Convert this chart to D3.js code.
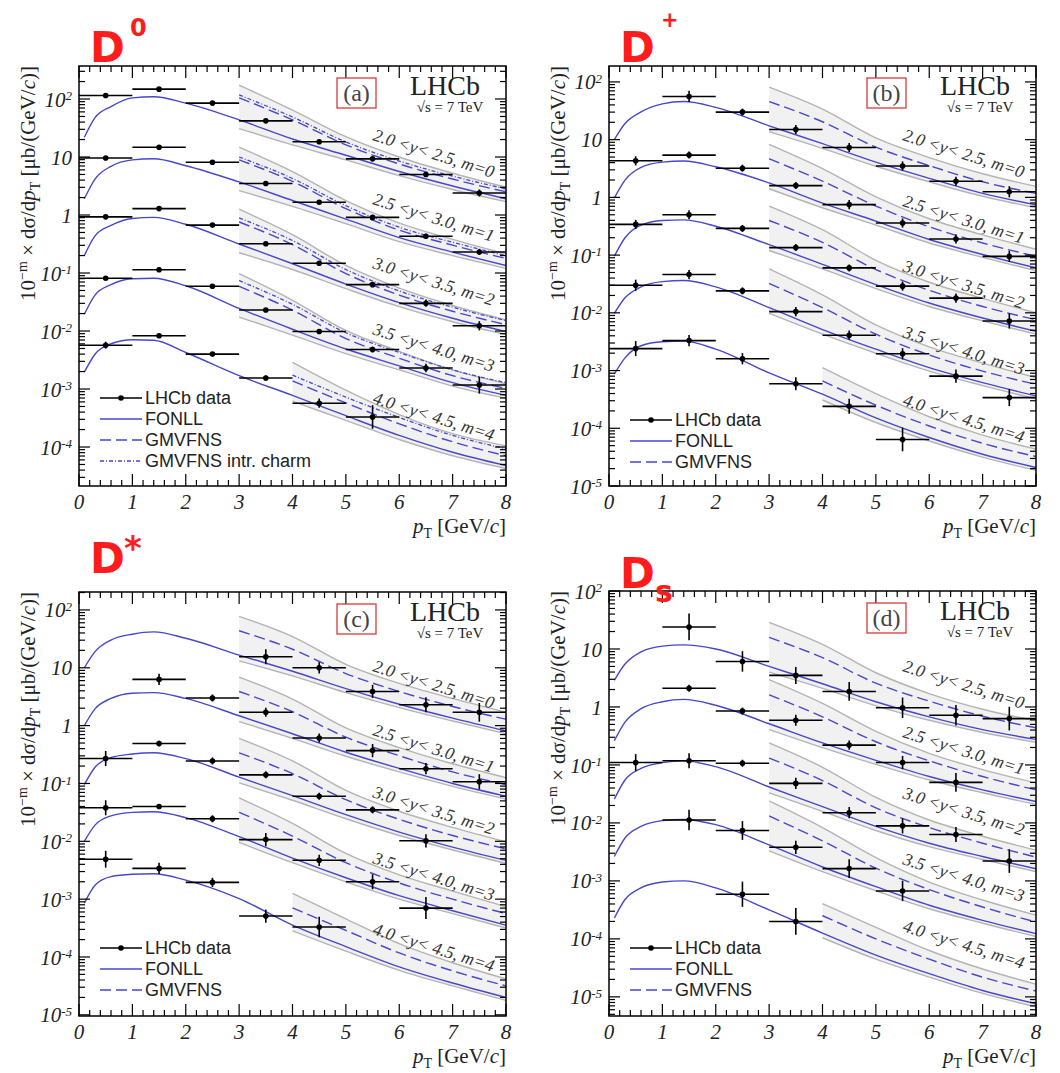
<!DOCTYPE html>
<html>
<head>
<meta charset="utf-8">
<script src="https://cdn.jsdelivr.net/npm/d3@7"></script>
<style>
body { margin: 0; background: #fff; }
svg { display: block; }
</style>
</head>
<body>
<svg id="chart" width="1060" height="1073"></svg>
<script>
"use strict";

// ---- shared axes / categories ----
const dataX = [0.5, 1.5, 2.5, 3.5, 4.5, 5.5, 6.5, 7.5];     // bin centres, bins are 1 GeV wide
const fonllX = [0.1, 0.3, 0.6, 1, 1.4, 2, 3, 4, 5, 6, 7, 8]; // points
const gmvX = [3, 4, 5, 6, 7, 8];                            // GMVFNS for m=0..3
const gmvX4 = [4, 5, 6, 7, 8];                              // GMVFNS for m=4
const xTickLabels = ['0', '1', '2', '3', '4', '5', '6', '7', '8'];
const rapidityLabels = ['2.0 <y< 2.5, m=0', '2.5 <y< 3.0, m=1', '3.0 <y< 3.5, m=2', '3.5 <y< 4.0, m=3', '4.0 <y< 4.5, m=4'];
const legendFull = ['LHCb data', 'FONLL', 'GMVFNS', 'GMVFNS intr. charm'];
const legendShort = ['LHCb data', 'FONLL', 'GMVFNS'];

// ---- (a) D0 ----  values in µb/(GeV/c) (already scaled by 10^-m), null = no point
const valA = [
	[115, 148, 85, 42, 18.3, 9.3, 5.0, 2.4],
	[9.6, 14.7, 8.1, 3.5, 1.66, 0.91, 0.43, 0.23],
	[0.93, 1.29, 0.67, 0.32, 0.147, 0.063, 0.030, 0.0123],
	[0.081, 0.114, 0.059, 0.023, 0.0098, 0.0048, 0.0023, 0.00117],
	[0.0057, 0.0083, 0.0040, 0.00155, 0.00057, 0.00033, null, null]
];
// relative errors
const errA = [
	[0.05, 0.05, 0.05, 0.06, 0.06, 0.08, 0.1, 0.15],
	[0.05, 0.05, 0.05, 0.06, 0.06, 0.08, 0.1, 0.12],
	[0.05, 0.05, 0.05, 0.06, 0.08, 0.1, 0.15, 0.2],
	[0.06, 0.05, 0.06, 0.08, 0.1, 0.12, 0.18, 0.4],
	[0.15, 0.06, 0.08, 0.1, 0.2, 0.6, null, null]
];
// theory curves, log10 of the value
const lgFonllA = [
	[1.34, 1.68, 1.87, 2.02, 2.04, 1.93, 1.64, 1.31, 1.03, 0.75, 0.50, 0.28],
	[0.28, 0.62, 0.84, 0.95, 0.97, 0.85, 0.57, 0.25, -0.07, -0.39, -0.64, -0.87],
	[-0.70, -0.36, -0.18, -0.06, -0.04, -0.16, -0.50, -0.84, -1.19, -1.51, -1.78, -2.01],
	[-1.71, -1.38, -1.20, -1.10, -1.09, -1.22, -1.61, -1.97, -2.31, -2.60, -2.89, -3.11],
	[-2.71, -2.40, -2.22, -2.15, -2.16, -2.37, -2.77, -3.11, -3.46, -3.80, -4.09, -4.32]
];
const lgGmvHiA = [
	[2.24, 1.81, 1.35, 1.00, 0.72, 0.48],
	[1.17, 0.75, 0.25, -0.14, -0.42, -0.67],
	[0.10, -0.34, -0.87, -1.26, -1.56, -1.81],
	[-1.01, -1.47, -1.99, -2.35, -2.67, -2.91],
	[-2.54, -3.02, -3.44, -3.77, -3.98]
];
const lgGmvA = [
	[2.02, 1.64, 1.21, 0.88, 0.62, 0.40],
	[0.95, 0.58, 0.11, -0.26, -0.52, -0.75],
	[-0.12, -0.51, -1.01, -1.38, -1.66, -1.89],
	[-1.23, -1.64, -2.13, -2.47, -2.77, -2.99],
	[-2.86, -3.24, -3.60, -3.91, -4.15]
];
const lgGmvIcA = [
	[2.07, 1.69, 1.26, 0.93, 0.67, 0.45],
	[1.00, 0.63, 0.16, -0.21, -0.47, -0.70],
	[-0.05, -0.44, -0.94, -1.31, -1.59, -1.82],
	[-1.13, -1.54, -2.03, -2.37, -2.67, -2.89],
	[-2.76, -3.14, -3.49, -3.80, -4.03]
];
const lgGmvLoA = [
	[1.49, 1.21, 0.95, 0.68, 0.44, 0.23],
	[0.42, 0.15, -0.15, -0.46, -0.70, -0.92],
	[-0.65, -0.94, -1.27, -1.58, -1.84, -2.06],
	[-1.76, -2.07, -2.39, -2.67, -2.95, -3.16],
	[-3.21, -3.54, -3.87, -4.15, -4.37]
];

// ---- (b) D+ ----
const valB = [
	[null, 56, 30, 15, 7.3, 3.5, 1.9, 1.25],
	[4.3, 5.4, 3.2, 1.6, 0.75, 0.36, 0.19, 0.095],
	[0.34, 0.50, 0.29, 0.135, 0.060, 0.029, 0.018, 0.0072],
	[0.030, 0.046, 0.024, 0.0105, 0.0041, 0.00195, 0.00080, 0.00034],
	[0.0024, 0.0033, 0.0016, 0.00059, 0.00024, 0.000064, null, null]
];
const errB = [
	[null, 0.25, 0.15, 0.2, 0.2, 0.2, 0.2, 0.25],
	[0.2, 0.15, 0.15, 0.15, 0.2, 0.2, 0.2, 0.25],
	[0.2, 0.2, 0.15, 0.15, 0.15, 0.2, 0.2, 0.35],
	[0.25, 0.2, 0.15, 0.2, 0.2, 0.25, 0.3, 0.4],
	[0.35, 0.25, 0.25, 0.3, 0.35, 0.6, null, null]
];
const lgFonllB = [
	[1.00, 1.28, 1.48, 1.62, 1.66, 1.56, 1.24, 0.93, 0.61, 0.33, 0.07, -0.13],
	[-0.01, 0.30, 0.52, 0.61, 0.63, 0.53, 0.25, -0.10, -0.41, -0.73, -0.99, -1.22],
	[-1.02, -0.70, -0.48, -0.40, -0.39, -0.50, -0.82, -1.16, -1.51, -1.83, -2.09, -2.32],
	[-2.01, -1.74, -1.55, -1.46, -1.44, -1.55, -1.91, -2.29, -2.63, -2.95, -3.21, -3.44],
	[-3.06, -2.78, -2.57, -2.50, -2.49, -2.63, -3.04, -3.41, -3.82, -4.16, -4.45, -4.68]
];
const lgGmvHiB = [
	[1.91, 1.53, 1.03, 0.69, 0.41, 0.19],
	[0.92, 0.50, 0.01, -0.37, -0.65, -0.90],
	[-0.15, -0.56, -1.09, -1.47, -1.75, -2.00],
	[-1.24, -1.69, -2.21, -2.59, -2.87, -3.12],
	[-2.95, -3.40, -3.80, -4.12, -4.36]
];
const lgGmvB = [
	[1.66, 1.31, 0.87, 0.55, 0.27, 0.07],
	[0.67, 0.28, -0.15, -0.51, -0.79, -1.02],
	[-0.40, -0.78, -1.25, -1.61, -1.89, -2.12],
	[-1.49, -1.91, -2.37, -2.73, -3.01, -3.24],
	[-3.18, -3.60, -3.96, -4.26, -4.49]
];
const lgGmvLoB = [
	[1.14, 0.85, 0.54, 0.27, 0.02, -0.18],
	[0.15, -0.18, -0.48, -0.79, -1.04, -1.27],
	[-0.92, -1.24, -1.58, -1.89, -2.14, -2.37],
	[-2.01, -2.37, -2.70, -3.01, -3.26, -3.49],
	[-3.51, -3.90, -4.22, -4.50, -4.73]
];

// ---- (c) D* ----
const valC = [
	[null, null, null, 15.5, 10, 3.9, 2.3, 1.7],
	[null, 6.3, 3.0, 1.7, 0.61, 0.37, 0.18, 0.107],
	[0.27, 0.49, 0.245, 0.141, 0.060, 0.035, 0.0102, null],
	[0.038, 0.040, 0.0245, 0.0107, 0.0047, 0.0020, 0.00070, null],
	[0.0049, 0.0034, 0.00195, 0.00051, 0.00033, null, null, null]
];
const errC = [
	[null, null, null, 0.35, 0.25, 0.3, 0.35, 0.45],
	[null, 0.25, 0.15, 0.2, 0.2, 0.3, 0.25, 0.35],
	[0.35, 0.12, 0.15, 0.15, 0.15, 0.15, 0.3, null],
	[0.35, 0.1, 0.15, 0.3, 0.25, 0.35, 0.55, null],
	[0.4, 0.25, 0.2, 0.3, 0.5, null, null, null]
];
const lgFonllC = [
	[1.00, 1.28, 1.48, 1.58, 1.62, 1.51, 1.22, 0.94, 0.64, 0.37, 0.13, -0.09],
	[0.00, 0.29, 0.47, 0.56, 0.57, 0.47, 0.17, -0.14, -0.46, -0.74, -1.00, -1.22],
	[-1.02, -0.72, -0.55, -0.49, -0.47, -0.57, -0.89, -1.21, -1.54, -1.84, -2.10, -2.33],
	[-2.00, -1.72, -1.56, -1.50, -1.49, -1.59, -1.92, -2.29, -2.63, -2.94, -3.20, -3.45],
	[-3.07, -2.76, -2.61, -2.57, -2.56, -2.67, -2.99, -3.45, -3.82, -4.17, -4.45, -4.70]
];
const lgGmvHiC = [
	[1.89, 1.54, 1.06, 0.73, 0.47, 0.23],
	[0.84, 0.46, -0.04, -0.38, -0.66, -0.90],
	[-0.22, -0.61, -1.12, -1.48, -1.76, -2.01],
	[-1.25, -1.69, -2.21, -2.58, -2.86, -3.13],
	[-2.90, -3.34, -3.77, -4.10, -4.38]
];
const lgGmvC = [
	[1.64, 1.32, 0.90, 0.59, 0.33, 0.11],
	[0.59, 0.24, -0.20, -0.52, -0.80, -1.02],
	[-0.47, -0.83, -1.28, -1.62, -1.90, -2.13],
	[-1.50, -1.91, -2.37, -2.72, -3.00, -3.25],
	[-3.15, -3.54, -3.93, -4.24, -4.50]
];
const lgGmvLoC = [
	[1.12, 0.86, 0.57, 0.31, 0.08, -0.14],
	[0.07, -0.22, -0.53, -0.80, -1.05, -1.27],
	[-0.99, -1.29, -1.61, -1.90, -2.15, -2.38],
	[-2.02, -2.37, -2.70, -3.00, -3.25, -3.50],
	[-3.55, -3.90, -4.23, -4.50, -4.75]
];

// ---- (d) Ds ----
const valD = [
	[null, 24, 6.1, 3.5, 1.85, 0.97, 0.72, 0.63],
	[null, 2.1, 0.85, 0.59, 0.22, 0.11, 0.05, null],
	[0.11, 0.118, 0.107, 0.048, 0.015, 0.0089, 0.0063, 0.0022],
	[null, 0.0112, 0.0074, 0.0038, 0.00163, 0.00067, null, null],
	[null, null, 0.00059, 0.00020, null, null, null, null]
];
const errD = [
	[null, 0.7, 0.5, 0.4, 0.45, 0.5, 0.5, 0.6],
	[null, 0.15, 0.15, 0.25, 0.2, 0.3, 0.45, null],
	[0.4, 0.35, 0.15, 0.25, 0.25, 0.35, 0.35, 0.6],
	[null, 0.5, 0.45, 0.3, 0.45, 0.5, null, null],
	[null, null, 0.65, 0.7, null, null, null, null]
];
const lgFonllD = [
	[0.46, 0.74, 0.95, 1.05, 1.07, 1.00, 0.70, 0.40, 0.09, -0.17, -0.39, -0.56],
	[-0.58, -0.26, -0.03, 0.09, 0.13, 0.03, -0.29, -0.62, -0.92, -1.20, -1.43, -1.63],
	[-1.59, -1.26, -1.06, -0.96, -0.93, -1.03, -1.38, -1.72, -2.06, -2.35, -2.58, -2.79],
	[-2.58, -2.26, -2.06, -1.96, -1.94, -2.03, -2.38, -2.76, -3.10, -3.42, -3.68, -3.91],
	[-3.64, -3.32, -3.12, -3.02, -3.00, -3.12, -3.50, -3.90, -4.28, -4.60, -4.89, -5.12]
];
const lgGmvHiD = [
	[1.46, 1.08, 0.59, 0.23, -0.04, -0.24],
	[0.47, 0.06, -0.42, -0.80, -1.08, -1.31],
	[-0.62, -1.04, -1.56, -1.95, -2.23, -2.47],
	[-1.62, -2.08, -2.60, -3.02, -3.33, -3.59],
	[-3.39, -3.80, -4.20, -4.52, -4.78]
];
const lgGmvD = [
	[1.20, 0.85, 0.41, 0.10, -0.16, -0.36],
	[0.21, -0.17, -0.60, -0.93, -1.20, -1.43],
	[-0.88, -1.27, -1.74, -2.08, -2.35, -2.59],
	[-1.88, -2.31, -2.78, -3.15, -3.45, -3.71],
	[-3.60, -4.00, -4.35, -4.66, -4.90]
];
const lgGmvLoD = [
	[0.60, 0.32, 0.02, -0.23, -0.44, -0.61],
	[-0.39, -0.70, -0.99, -1.26, -1.48, -1.68],
	[-1.48, -1.80, -2.13, -2.41, -2.63, -2.84],
	[-2.48, -2.84, -3.17, -3.48, -3.73, -3.96],
	[-3.98, -4.35, -4.66, -4.94, -5.17]
];

// ---- layout ----
const W = 427;
const serif = '"Liberation Serif", "DejaVu Serif", serif';
const sans = '"Liberation Sans", Arial, sans-serif';
const title = '"DejaVu Sans", "Noto Sans", sans-serif';
const blue = '#4747cc';
const gray = '#b4b4b4';
const red = '#ff1c1c';

const panels = [
	{ tag: '(a)', left: 79, top: 66, h: 420, lgMin: -4.672, lgMax: 2.569,
		val: valA, err: errA, fonll: lgFonllA, hi: lgGmvHiA, mid: lgGmvA, lo: lgGmvLoA, ic: lgGmvIcA,
		legend: legendFull, legendTop: 332, labelDy: [74, 138, 202, 268, 337], yLabelX: 35,
		mark: { text: '0', dx: 51, dy: -30, size: 24 }, titleDy: -4 },
	{ tag: '(b)', left: 609, top: 66, h: 420, lgMin: -5.0, lgMax: 2.276,
		val: valB, err: errB, fonll: lgFonllB, hi: lgGmvHiB, mid: lgGmvB, lo: lgGmvLoB, ic: null,
		legend: legendShort, legendTop: 354, labelDy: [74, 140, 205, 271, 339], yLabelX: 565,
		mark: { text: '+', dx: 52, dy: -39, size: 21 }, titleDy: -4 },
	{ tag: '(c)', left: 79, top: 592, h: 424, lgMin: -5.02, lgMax: 2.31,
		val: valC, err: errC, fonll: lgFonllC, hi: lgGmvHiC, mid: lgGmvC, lo: lgGmvLoC, ic: null,
		legend: legendShort, legendTop: 356, labelDy: [79, 143, 205, 271, 342], yLabelX: 35,
		mark: { text: '*', dx: 45, dy: -32, size: 34 }, titleDy: -19 },
	{ tag: '(d)', left: 609, top: 591, h: 425, lgMin: -5.33, lgMax: 2.0,
		val: valD, err: errD, fonll: lgFonllD, hi: lgGmvHiD, mid: lgGmvD, lo: lgGmvLoD, ic: null,
		legend: legendShort, legendTop: 357, labelDy: [80, 146, 207, 273, 340], yLabelX: 565,
		mark: { text: 's', dx: 46, dy: 11, size: 30 }, titleDy: -3 }
];

const svg = d3.select('#chart');
svg.append('rect').attr('width', 1060).attr('height', 1073).attr('fill', '#fff');
const defs = svg.append('defs');

function gmvXs(arr) {
	return arr.length === gmvX.length ? gmvX : gmvX4;
}

function drawPanel(p, pi) {
	const g = svg.append('g');
	const right = p.left + W;
	const bottom = p.top + p.h;
	const x = d3.scaleLinear().domain([0, 8]).range([p.left, right]);
	const y = d3.scaleLog().domain([Math.pow(10, p.lgMin), Math.pow(10, p.lgMax)]).range([bottom, p.top]);

	defs.append('clipPath').attr('id', 'clip' + pi)
		.append('rect').attr('x', p.left).attr('y', p.top).attr('width', W).attr('height', p.h);
	const plot = g.append('g').attr('clip-path', 'url(#clip' + pi + ')');

	const line = d3.line().x(d => x(d[0])).y(d => y(d[1])).curve(d3.curveMonotoneX);
	const area = d3.area().x(d => x(d[0])).y0(d => y(d[1])).y1(d => y(d[2])).curve(d3.curveMonotoneX);
	const pts = (xs, lg) => xs.map((xv, i) => [xv, Math.pow(10, lg[i])]);

	// GMVFNS uncertainty bands
	p.mid.forEach((mid, m) => {
		const xs = gmvXs(mid);
		plot.append('path')
			.datum(xs.map((xv, i) => [xv, Math.pow(10, p.lo[m][i]), Math.pow(10, p.hi[m][i])]))
			.attr('d', area)
			.attr('fill', '#ebebeb')
			.attr('fill-opacity', 0.7);
	});
	p.mid.forEach((mid, m) => {
		const xs = gmvXs(mid);
		[p.hi[m], p.lo[m]].forEach(edge => {
			plot.append('path').datum(pts(xs, edge)).attr('d', line)
				.attr('fill', 'none').attr('stroke', gray).attr('stroke-width', 1.4);
		});
	});
	// FONLL
	p.fonll.forEach(lg => {
		plot.append('path').datum(pts(fonllX, lg)).attr('d', line)
			.attr('fill', 'none').attr('stroke', blue).attr('stroke-width', 1.4);
	});
	// GMVFNS central
	p.mid.forEach(mid => {
		plot.append('path').datum(pts(gmvXs(mid), mid)).attr('d', line)
			.attr('fill', 'none').attr('stroke', blue).attr('stroke-width', 1.4)
			.attr('stroke-dasharray', '11,5');
	});
	// GMVFNS intrinsic charm
	if (p.ic) {
		p.ic.forEach(ic => {
			plot.append('path').datum(pts(gmvXs(ic), ic)).attr('d', line)
				.attr('fill', 'none').attr('stroke', blue).attr('stroke-width', 1.3)
				.attr('stroke-dasharray', '4,2,1,2');
		});
	}

	// data points
	const dataG = g.append('g');
	p.val.forEach((row, m) => {
		row.forEach((v, i) => {
			if (v === null) return;
			const e = p.err[m][i];
			const cx = x(dataX[i]);
			const cy = y(v);
			dataG.append('line')
				.attr('x1', x(dataX[i] - 0.5)).attr('x2', x(dataX[i] + 0.5))
				.attr('y1', cy).attr('y2', cy)
				.attr('stroke', '#000').attr('stroke-width', 1.6);
			dataG.append('line')
				.attr('x1', cx).attr('x2', cx)
				.attr('y1', y(v / (1 + e))).attr('y2', y(v * (1 + e)))
				.attr('stroke', '#000').attr('stroke-width', 1.6);
			dataG.append('circle').attr('cx', cx).attr('cy', cy).attr('r', 2.8).attr('fill', '#000');
		});
	});

	// frame
	g.append('rect').attr('x', p.left).attr('y', p.top).attr('width', W).attr('height', p.h)
		.attr('fill', 'none').attr('stroke', '#000').attr('stroke-width', 1.5);

	// ticks
	const tickG = g.append('g').attr('stroke', '#000').attr('stroke-width', 1.2);
	const majorY = d3.range(Math.ceil(p.lgMin), Math.floor(p.lgMax) + 1);
	const minorY = [];
	for (let k = Math.floor(p.lgMin); k <= Math.ceil(p.lgMax); k++) {
		for (let j = 2; j <= 9; j++) {
			const v = j * Math.pow(10, k);
			if (Math.log10(v) > p.lgMin && Math.log10(v) < p.lgMax) minorY.push(v);
		}
	}
	majorY.forEach(k => {
		const yy = y(Math.pow(10, k));
		tickG.append('line').attr('x1', p.left).attr('x2', p.left + 11).attr('y1', yy).attr('y2', yy);
		tickG.append('line').attr('x1', right - 11).attr('x2', right).attr('y1', yy).attr('y2', yy);
	});
	minorY.forEach(v => {
		const yy = y(v);
		tickG.append('line').attr('x1', p.left).attr('x2', p.left + 6).attr('y1', yy).attr('y2', yy);
		tickG.append('line').attr('x1', right - 6).attr('x2', right).attr('y1', yy).attr('y2', yy);
	});
	d3.range(0, 40.5, 1).forEach(t => {
		const xv = t / 5;
		const len = t % 5 === 0 ? 12 : 6;
		const xx = x(xv);
		tickG.append('line').attr('x1', xx).attr('x2', xx).attr('y1', bottom).attr('y2', bottom - len);
		tickG.append('line').attr('x1', xx).attr('x2', xx).attr('y1', p.top).attr('y2', p.top + len);
	});

	// y tick labels
	majorY.forEach(k => {
		const t = g.append('text')
			.attr('x', p.left - 7).attr('y', y(Math.pow(10, k))).attr('dy', '0.36em')
			.attr('text-anchor', 'end')
			.style('font-family', serif).style('font-style', 'italic').style('font-size', '21px')
			.attr('fill', '#222');
		if (k === 0) t.text('1');
		else if (k === 1) t.text('10');
		else {
			t.append('tspan').text('10');
			t.append('tspan').attr('dy', '-0.5em').style('font-size', '13px').text(String(k));
		}
	});
	// x tick labels
	xTickLabels.forEach((lab, i) => {
		g.append('text').attr('x', x(i)).attr('y', bottom + 23).attr('text-anchor', 'middle')
			.style('font-family', serif).style('font-style', 'italic').style('font-size', '21px')
			.attr('fill', '#222').text(lab);
	});

	// x axis title
	const xl = g.append('text').attr('x', right).attr('y', bottom + 47).attr('text-anchor', 'end')
		.style('font-family', serif).style('font-size', '21px').attr('fill', '#222');
	xl.append('tspan').style('font-style', 'italic').text('p');
	xl.append('tspan').attr('dy', 5).style('font-size', '14px').text('T');
	xl.append('tspan').attr('dy', -5).text(' [GeV/');
	xl.append('tspan').style('font-style', 'italic').text('c');
	xl.append('tspan').text(']');

	// y axis title
	const yl = g.append('text')
		.attr('transform', 'translate(' + p.yLabelX + ',' + p.top + ') rotate(-90)')
		.attr('text-anchor', 'end')
		.style('font-family', serif).style('font-size', '21px').attr('fill', '#222');
	yl.append('tspan').text('10');
	yl.append('tspan').attr('dy', -8).style('font-size', '14px').text('−m');
	yl.append('tspan').attr('dy', 8).text(' × dσ/d');
	yl.append('tspan').style('font-style', 'italic').text('p');
	yl.append('tspan').attr('dy', 5).style('font-size', '14px').text('T');
	yl.append('tspan').attr('dy', -5).text(' [μb/(GeV/');
	yl.append('tspan').style('font-style', 'italic').text('c');
	yl.append('tspan').text(')]');

	// panel tag in red box, LHCb label
	g.append('rect').attr('x', p.left + 258).attr('y', p.top + 12).attr('width', 39).attr('height', 30)
		.attr('fill', 'none').attr('stroke', '#d83a3a').attr('stroke-width', 1.3);
	g.append('text').attr('x', p.left + 277.5).attr('y', p.top + 35).attr('text-anchor', 'middle')
		.style('font-family', serif).style('font-size', '24px').attr('fill', '#444').text(p.tag);
	g.append('text').attr('x', p.left + 366).attr('y', p.top + 29).attr('text-anchor', 'middle')
		.style('font-family', serif).style('font-size', '28px').attr('fill', '#222').text('LHCb');
	g.append('text').attr('x', p.left + 371).attr('y', p.top + 46).attr('text-anchor', 'middle')
		.style('font-family', serif).style('font-size', '15px').attr('fill', '#222').text('√s = 7 TeV');

	// rapidity labels
	rapidityLabels.forEach((lab, m) => {
		g.append('text')
			.attr('transform', 'translate(' + (p.left + 293) + ',' + (p.top + p.labelDy[m]) + ') rotate(17.5)')
			.style('font-family', serif).style('font-style', 'italic').style('font-size', '17.5px')
			.attr('fill', '#333').text(lab);
	});

	// legend
	p.legend.forEach((lab, i) => {
		const ly = p.top + p.legendTop + i * 21;
		const x1 = p.left + 21, x2 = p.left + 63;
		const ln = g.append('line').attr('x1', x1).attr('x2', x2).attr('y1', ly).attr('y2', ly)
			.attr('stroke-width', i === 0 ? 1.6 : 1.4).attr('stroke', i === 0 ? '#000' : blue);
		if (i === 2) ln.attr('stroke-dasharray', '11,5');
		if (i === 3) ln.attr('stroke-dasharray', '4,2,1,2');
		if (i === 0) g.append('circle').attr('cx', (x1 + x2) / 2).attr('cy', ly).attr('r', 2.8).attr('fill', '#000');
		g.append('text').attr('x', p.left + 66).attr('y', ly).attr('dy', '0.36em')
			.style('font-family', sans).style('font-size', '18px').attr('fill', '#222').text(lab);
	});

	// particle name in red
	g.append('text').attr('x', p.left + 11).attr('y', p.top + p.titleDy)
		.style('font-family', title).style('font-weight', 'bold').style('font-size', '42px')
		.attr('fill', red).text('D');
	g.append('text').attr('x', p.left + p.mark.dx).attr('y', p.top + p.mark.dy)
		.style('font-family', title).style('font-weight', 'bold').style('font-size', p.mark.size + 'px')
		.attr('fill', red).text(p.mark.text);
}

panels.forEach(drawPanel);
</script>
</body>
</html>
